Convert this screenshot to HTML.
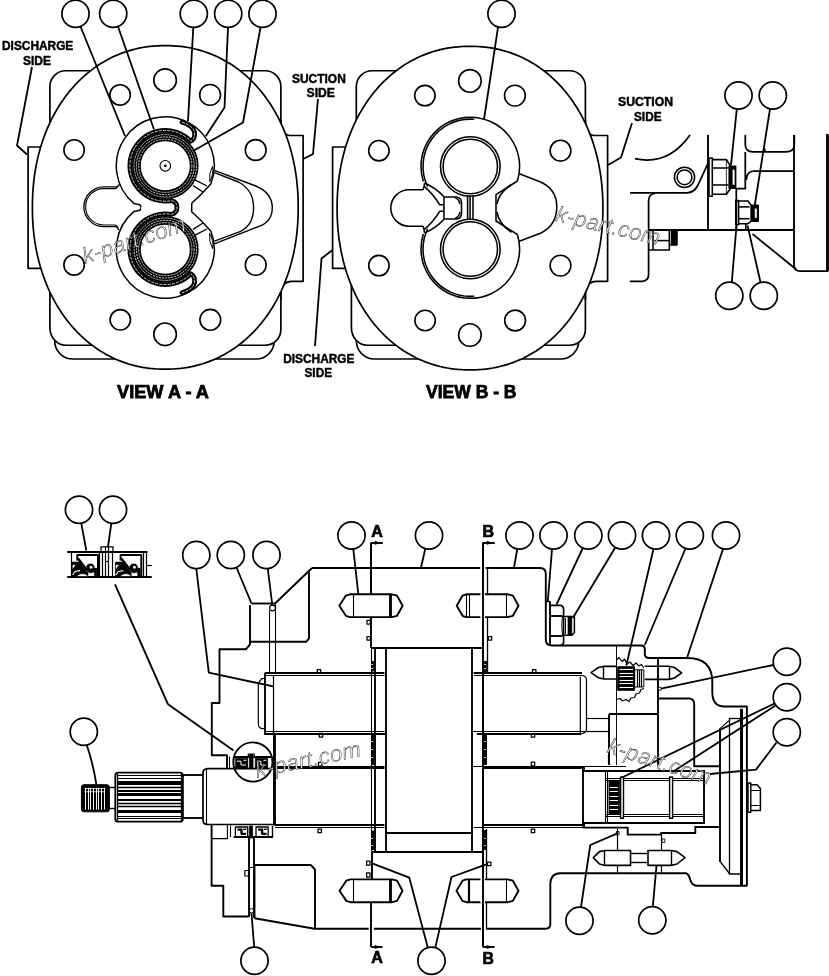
<!DOCTYPE html>
<html><head><meta charset="utf-8"><title>Gear pump</title>
<style>
html,body{margin:0;padding:0;background:#fff;}
svg{display:block;font-family:"Liberation Sans",sans-serif;}
</style></head><body>
<svg width="829" height="976" viewBox="0 0 829 976">
<defs><filter id="nf" x="-10%" y="-10%" width="120%" height="120%"><feOffset dx="0" dy="0"/></filter></defs>
<rect x="0" y="0" width="829" height="976" fill="#fff"/>
<g fill="none" stroke="#000" stroke-width="1.55" stroke-linecap="butt" stroke-linejoin="round">
<path d="M54.7 300 L54.7 341 A18 18 0 0 0 72.7 359 L256.2 359 A18 18 0 0 0 274.2 341 L274.2 300" stroke-width="1.7" fill="#fff"/>
<path d="M65.7 70.75 L265.1 70.75 A15.8 15.8 0 0 1 280.9 86.55 L280.9 329.45 A15.8 15.8 0 0 1 265.1 345.25 L65.7 345.25 A15.8 17.8 0 0 1 49.9 327.45 L49.9 208 L49.9 208 L49.9 86.55 A15.8 15.8 0 0 1 65.7 70.75 Z" stroke-width="1.7" fill="#fff"/>
<path d="M280.9 120 L280.9 126.5 A9 9 0 0 0 289.9 135.5 L303.1 135.5 L303.1 281.3 L291.4 281.3 A10.5 10.5 0 0 0 280.9 291.8 L280.9 300" stroke-width="1.7" fill="#fff"/>
<path d="M61.9 147 L28.1 147 L28.1 268.3 L61.9 268.3" stroke-width="1.7" fill="#fff"/>
<path d="M298.2 207.4 L298.16 212.44 L298.03 217.15 L297.81 221.73 L297.51 226.23 L297.12 230.67 L296.64 235.05 L296.08 239.38 L295.43 243.65 L294.7 247.88 L293.88 252.06 L292.98 256.19 L292 260.27 L290.93 264.31 L289.78 268.29 L288.55 272.22 L287.23 276.09 L285.84 279.91 L284.37 283.67 L282.82 287.37 L281.19 291.01 L279.48 294.59 L277.7 298.11 L275.84 301.56 L273.91 304.94 L271.91 308.25 L269.83 311.49 L267.68 314.66 L265.47 317.76 L263.19 320.77 L260.84 323.71 L258.42 326.57 L255.95 329.35 L253.4 332.05 L250.8 334.66 L248.14 337.19 L245.42 339.63 L242.64 341.98 L239.81 344.24 L236.92 346.41 L233.98 348.49 L230.99 350.47 L227.95 352.36 L224.86 354.15 L221.72 355.85 L218.54 357.45 L215.31 358.95 L212.04 360.35 L208.73 361.65 L205.38 362.85 L201.98 363.95 L198.55 364.94 L195.08 365.83 L191.56 366.62 L188.01 367.3 L184.41 367.88 L180.77 368.36 L177.07 368.72 L173.3 368.99 L169.44 369.15 L165.3 369.2 L161.16 369.15 L157.3 368.99 L153.53 368.72 L149.83 368.36 L146.19 367.88 L142.59 367.3 L139.04 366.62 L135.52 365.83 L132.05 364.94 L128.62 363.95 L125.22 362.85 L121.87 361.65 L118.56 360.35 L115.29 358.95 L112.06 357.45 L108.88 355.85 L105.74 354.15 L102.65 352.36 L99.61 350.47 L96.62 348.49 L93.68 346.41 L90.79 344.24 L87.96 341.98 L85.18 339.63 L82.46 337.19 L79.8 334.66 L77.2 332.05 L74.65 329.35 L72.18 326.57 L69.76 323.71 L67.41 320.77 L65.13 317.76 L62.92 314.66 L60.77 311.49 L58.69 308.25 L56.69 304.94 L54.76 301.56 L52.9 298.11 L51.12 294.59 L49.41 291.01 L47.78 287.37 L46.23 283.67 L44.76 279.91 L43.37 276.09 L42.05 272.22 L40.82 268.29 L39.67 264.31 L38.6 260.27 L37.62 256.19 L36.72 252.06 L35.9 247.88 L35.17 243.65 L34.52 239.38 L33.96 235.05 L33.48 230.67 L33.09 226.23 L32.79 221.73 L32.57 217.15 L32.44 212.44 L32.4 207.4 L32.44 202.36 L32.57 197.65 L32.79 193.07 L33.09 188.57 L33.48 184.13 L33.96 179.75 L34.52 175.42 L35.17 171.15 L35.9 166.92 L36.72 162.74 L37.62 158.61 L38.6 154.53 L39.67 150.49 L40.82 146.51 L42.05 142.58 L43.37 138.71 L44.76 134.89 L46.23 131.13 L47.78 127.43 L49.41 123.79 L51.12 120.21 L52.9 116.69 L54.76 113.24 L56.69 109.86 L58.69 106.55 L60.77 103.31 L62.92 100.14 L65.13 97.04 L67.41 94.03 L69.76 91.09 L72.18 88.23 L74.65 85.45 L77.2 82.75 L79.8 80.14 L82.46 77.61 L85.18 75.17 L87.96 72.82 L90.79 70.56 L93.68 68.39 L96.62 66.31 L99.61 64.33 L102.65 62.44 L105.74 60.65 L108.88 58.95 L112.06 57.35 L115.29 55.85 L118.56 54.45 L121.87 53.15 L125.22 51.95 L128.62 50.85 L132.05 49.86 L135.52 48.97 L139.04 48.18 L142.59 47.5 L146.19 46.92 L149.83 46.44 L153.53 46.08 L157.3 45.81 L161.16 45.65 L165.3 45.6 L169.44 45.65 L173.3 45.81 L177.07 46.08 L180.77 46.44 L184.41 46.92 L188.01 47.5 L191.56 48.18 L195.08 48.97 L198.55 49.86 L201.98 50.85 L205.38 51.95 L208.73 53.15 L212.04 54.45 L215.31 55.85 L218.54 57.35 L221.72 58.95 L224.86 60.65 L227.95 62.44 L230.99 64.33 L233.98 66.31 L236.92 68.39 L239.81 70.56 L242.64 72.82 L245.42 75.17 L248.14 77.61 L250.8 80.14 L253.4 82.75 L255.95 85.45 L258.42 88.23 L260.84 91.09 L263.19 94.03 L265.47 97.04 L267.68 100.14 L269.83 103.31 L271.91 106.55 L273.91 109.86 L275.84 113.24 L277.7 116.69 L279.48 120.21 L281.19 123.79 L282.82 127.43 L284.37 131.13 L285.84 134.89 L287.23 138.71 L288.55 142.58 L289.78 146.51 L290.93 150.49 L292 154.53 L292.98 158.61 L293.88 162.74 L294.7 166.92 L295.43 171.15 L296.08 175.42 L296.64 179.75 L297.12 184.13 L297.51 188.57 L297.81 193.07 L298.03 197.65 L298.16 202.36 Z" stroke-width="1.7" fill="#fff"/>
<circle cx="120.1" cy="94.9" r="10.2" stroke-width="1.6"/>
<circle cx="165.1" cy="80.2" r="11.3" stroke-width="1.6"/>
<circle cx="210.1" cy="94.9" r="10.4" stroke-width="1.6"/>
<circle cx="74.1" cy="150" r="10.2" stroke-width="1.6"/>
<circle cx="255.7" cy="150" r="10.4" stroke-width="1.6"/>
<circle cx="74.1" cy="264.9" r="10.2" stroke-width="1.6"/>
<circle cx="255.7" cy="264.9" r="10.4" stroke-width="1.6"/>
<circle cx="120.3" cy="319.8" r="10.2" stroke-width="1.6"/>
<circle cx="165.1" cy="334.3" r="11.3" stroke-width="1.6"/>
<circle cx="210.3" cy="319.8" r="10.4" stroke-width="1.6"/>
<path d="M134.12 203.6 A49 49 0 1 1 210.79 184 Q201.5 194.5 191.7 203.2 L191.7 211.8 Q201.5 220.5 210.79 231 A49 49 0 1 1 134.12 211.4 L137.5 210.8 Q141 210.6 141 207.5 Q141 204.4 137.5 204.2 Z" stroke-width="1.5" fill="#fff"/>
<path d="M119.4 184.2 Q118.8 186.9 115.5 186.9 L103.8 186.9 A19.9 19.9 0 0 0 103.8 226.7 L115.4 226.7 Q118.2 227 118.6 230.2" stroke-width="1.3"/>
<path d="M117.8 186.3 Q117 188.6 114.5 188.6 L103.8 188.6 A18.2 18.2 0 0 0 103.8 225 L114.5 225 Q117.4 225.2 118 228" stroke-width="1.1"/>
<path d="M214.3 170.3 L255.8 186 Q272.3 193 272.3 207.6 Q272.3 222 259 226.4 L214.3 243.8" stroke-width="1.4"/>
<path d="M214.5 172.6 L238.4 182 Q253.6 190 253.6 207.6 Q253.6 225 240.6 231.3 L214.5 241.2" stroke-width="1.4"/>
<path d="M212.6 166.3 Q213.8 175 209.6 181.6 Q208.8 173 212.6 166.3 Z" stroke-width="1"/>
<path d="M212.6 248.7 Q213.8 240 209.6 233.4 Q208.8 242 212.6 248.7 Z" stroke-width="1"/>
<line x1="195" y1="179.8" x2="207" y2="186" stroke-width="1.3"/>
<line x1="193" y1="185.6" x2="203" y2="192" stroke-width="1.3"/>
<line x1="195" y1="235.2" x2="207" y2="229" stroke-width="1.3"/>
<line x1="193" y1="229.4" x2="203" y2="223" stroke-width="1.3"/>
<circle cx="165.3" cy="165.8" r="28.9" stroke-width="8.8"/>
<circle cx="165.3" cy="165.8" r="26.6" stroke-width="0.8" stroke="#fff" stroke-dasharray="2.2 0.9"/>
<circle cx="165.3" cy="165.8" r="28.9" stroke-width="0.8" stroke="#fff" stroke-dasharray="2.2 0.9"/>
<circle cx="165.3" cy="165.8" r="31.2" stroke-width="0.8" stroke="#fff" stroke-dasharray="2.2 0.9"/>
<circle cx="165.3" cy="249.2" r="28.9" stroke-width="8.8"/>
<circle cx="165.3" cy="249.2" r="26.6" stroke-width="0.8" stroke="#fff" stroke-dasharray="2.2 0.9"/>
<circle cx="165.3" cy="249.2" r="28.9" stroke-width="0.8" stroke="#fff" stroke-dasharray="2.2 0.9"/>
<circle cx="165.3" cy="249.2" r="31.2" stroke-width="0.8" stroke="#fff" stroke-dasharray="2.2 0.9"/>
<path d="M182 122.3 C188 124 193.5 127 194.6 132.5 C195 136.5 193.5 139.8 190.76 141.21 A35.4 35.4 0 1 0 171.45 200.66 Q177 202 177 207.5 Q177 213 171.45 214.34 A35.4 35.4 0 1 0 190.76 273.79 C193.5 275.2 195 278.5 194.6 282.5 C193.5 288 188 291 182 292.7" stroke-width="4.8" stroke-linecap="round"/>
<path d="M182 122.3 C188 124 193.5 127 194.6 132.5 C195 136.5 193.5 139.8 190.76 141.21 A35.4 35.4 0 1 0 171.45 200.66 Q177 202 177 207.5 Q177 213 171.45 214.34 A35.4 35.4 0 1 0 190.76 273.79 C193.5 275.2 195 278.5 194.6 282.5 C193.5 288 188 291 182 292.7" stroke-width="0.8" stroke="#fff" stroke-dasharray="3 1.2"/>
<line x1="141" y1="208" x2="170" y2="208" stroke-width="1.9" stroke="#fff"/>
<circle cx="167" cy="206.3" r="0.9" stroke-width="0.6" fill="#fff" stroke="#fff"/>
<circle cx="165.3" cy="165.8" r="5.3" stroke-width="1.1" fill="#fff"/>
<circle cx="165.3" cy="165.8" r="0.6" fill="#000"/>
<path d="M356.4 300 L356.4 341 A18 18 0 0 0 374.4 359 L560.7 359 A18 18 0 0 0 578.7 341 L578.7 300" stroke-width="1.7" fill="#fff"/>
<path d="M372.1 70.75 L569.6 70.75 A15.8 15.8 0 0 1 585.4 86.55 L585.4 329.45 A15.8 15.8 0 0 1 569.6 345.25 L367.2 345.25 A15.8 17.8 0 0 1 351.4 327.45 L351.4 208 L356.3 208 L356.3 86.55 A15.8 15.8 0 0 1 372.1 70.75 Z" stroke-width="1.7" fill="#fff"/>
<path d="M585.4 120 L585.4 126.5 A9 9 0 0 0 594.4 135.5 L607.6 135.5 L607.6 281.3 L595.9 281.3 A10.5 10.5 0 0 0 585.4 291.8 L585.4 300" stroke-width="1.7" fill="#fff"/>
<path d="M366.4 147 L332.6 147 L332.6 268.3 L366.4 268.3" stroke-width="1.7" fill="#fff"/>
<path d="M602.9 208.1 L602.86 213.14 L602.73 217.85 L602.51 222.43 L602.21 226.93 L601.82 231.37 L601.34 235.75 L600.78 240.08 L600.13 244.35 L599.4 248.58 L598.58 252.76 L597.68 256.89 L596.7 260.97 L595.63 265.01 L594.48 268.99 L593.25 272.92 L591.93 276.79 L590.54 280.61 L589.07 284.37 L587.52 288.07 L585.89 291.71 L584.18 295.29 L582.4 298.81 L580.54 302.26 L578.61 305.64 L576.61 308.95 L574.53 312.19 L572.38 315.36 L570.17 318.46 L567.89 321.47 L565.54 324.41 L563.12 327.27 L560.65 330.05 L558.1 332.75 L555.5 335.36 L552.84 337.89 L550.12 340.33 L547.34 342.68 L544.51 344.94 L541.62 347.11 L538.68 349.19 L535.69 351.17 L532.65 353.06 L529.56 354.85 L526.42 356.55 L523.24 358.15 L520.01 359.65 L516.74 361.05 L513.43 362.35 L510.08 363.55 L506.68 364.65 L503.25 365.64 L499.78 366.53 L496.26 367.32 L492.71 368 L489.11 368.58 L485.47 369.06 L481.77 369.42 L478 369.69 L474.14 369.85 L470 369.9 L465.86 369.85 L462 369.69 L458.23 369.42 L454.53 369.06 L450.89 368.58 L447.29 368 L443.74 367.32 L440.22 366.53 L436.75 365.64 L433.32 364.65 L429.92 363.55 L426.57 362.35 L423.26 361.05 L419.99 359.65 L416.76 358.15 L413.58 356.55 L410.44 354.85 L407.35 353.06 L404.31 351.17 L401.32 349.19 L398.38 347.11 L395.49 344.94 L392.66 342.68 L389.88 340.33 L387.16 337.89 L384.5 335.36 L381.9 332.75 L379.35 330.05 L376.88 327.27 L374.46 324.41 L372.11 321.47 L369.83 318.46 L367.62 315.36 L365.47 312.19 L363.39 308.95 L361.39 305.64 L359.46 302.26 L357.6 298.81 L355.82 295.29 L354.11 291.71 L352.48 288.07 L350.93 284.37 L349.46 280.61 L348.07 276.79 L346.75 272.92 L345.52 268.99 L344.37 265.01 L343.3 260.97 L342.32 256.89 L341.42 252.76 L340.6 248.58 L339.87 244.35 L339.22 240.08 L338.66 235.75 L338.18 231.37 L337.79 226.93 L337.49 222.43 L337.27 217.85 L337.14 213.14 L337.1 208.1 L337.14 203.06 L337.27 198.35 L337.49 193.77 L337.79 189.27 L338.18 184.83 L338.66 180.45 L339.22 176.12 L339.87 171.85 L340.6 167.62 L341.42 163.44 L342.32 159.31 L343.3 155.23 L344.37 151.19 L345.52 147.21 L346.75 143.28 L348.07 139.41 L349.46 135.59 L350.93 131.83 L352.48 128.13 L354.11 124.49 L355.82 120.91 L357.6 117.39 L359.46 113.94 L361.39 110.56 L363.39 107.25 L365.47 104.01 L367.62 100.84 L369.83 97.74 L372.11 94.73 L374.46 91.79 L376.88 88.93 L379.35 86.15 L381.9 83.45 L384.5 80.84 L387.16 78.31 L389.88 75.87 L392.66 73.52 L395.49 71.26 L398.38 69.09 L401.32 67.01 L404.31 65.03 L407.35 63.14 L410.44 61.35 L413.58 59.65 L416.76 58.05 L419.99 56.55 L423.26 55.15 L426.57 53.85 L429.92 52.65 L433.32 51.55 L436.75 50.56 L440.22 49.67 L443.74 48.88 L447.29 48.2 L450.89 47.62 L454.53 47.14 L458.23 46.78 L462 46.51 L465.86 46.35 L470 46.3 L474.14 46.35 L478 46.51 L481.77 46.78 L485.47 47.14 L489.11 47.62 L492.71 48.2 L496.26 48.88 L499.78 49.67 L503.25 50.56 L506.68 51.55 L510.08 52.65 L513.43 53.85 L516.74 55.15 L520.01 56.55 L523.24 58.05 L526.42 59.65 L529.56 61.35 L532.65 63.14 L535.69 65.03 L538.68 67.01 L541.62 69.09 L544.51 71.26 L547.34 73.52 L550.12 75.87 L552.84 78.31 L555.5 80.84 L558.1 83.45 L560.65 86.15 L563.12 88.93 L565.54 91.79 L567.89 94.73 L570.17 97.74 L572.38 100.84 L574.53 104.01 L576.61 107.25 L578.61 110.56 L580.54 113.94 L582.4 117.39 L584.18 120.91 L585.89 124.49 L587.52 128.13 L589.07 131.83 L590.54 135.59 L591.93 139.41 L593.25 143.28 L594.48 147.21 L595.63 151.19 L596.7 155.23 L597.68 159.31 L598.58 163.44 L599.4 167.62 L600.13 171.85 L600.78 176.12 L601.34 180.45 L601.82 184.83 L602.21 189.27 L602.51 193.77 L602.73 198.35 L602.86 203.06 Z" stroke-width="1.7" fill="#fff"/>
<circle cx="424.9" cy="95.6" r="10.2" stroke-width="1.6"/>
<circle cx="469.9" cy="80.9" r="11.3" stroke-width="1.6"/>
<circle cx="514.9" cy="95.6" r="10.4" stroke-width="1.6"/>
<circle cx="378.9" cy="150.7" r="10.2" stroke-width="1.6"/>
<circle cx="560.5" cy="150.7" r="10.4" stroke-width="1.6"/>
<circle cx="378.9" cy="265.6" r="10.2" stroke-width="1.6"/>
<circle cx="560.5" cy="265.6" r="10.4" stroke-width="1.6"/>
<circle cx="425.1" cy="320.5" r="10.2" stroke-width="1.6"/>
<circle cx="469.9" cy="335" r="11.3" stroke-width="1.6"/>
<circle cx="515.1" cy="320.5" r="10.4" stroke-width="1.6"/>
<path d="M423.34 181.5 A49.3 49.3 0 1 1 517.42 181"/>
<path d="M423.34 234 A49.3 49.3 0 1 0 517.42 234.5"/>
<path d="M427.64 186.7 A47.2 47.2 0 0 1 474.3 119.3"/>
<path d="M427.64 228.8 A47.2 47.2 0 0 0 474.3 296.2"/>
<circle cx="470.3" cy="166.5" r="29.8"/>
<circle cx="470.3" cy="166.5" r="27.2"/>
<circle cx="470.3" cy="249" r="29.8"/>
<circle cx="470.3" cy="249" r="27.2"/>
<path d="M423 189.8 L409 189.8 A18.2 18.2 0 0 0 409 226.2 L423 226.2"/>
<path d="M423 189.8 Q424.3 187 424.5 183"/>
<path d="M423 226.2 Q424.3 229 424.5 233"/>
<path d="M424.5 183 Q436 188 444 196.8"/>
<path d="M424.5 186.7 Q433 194 439.7 204.8 L444 204.8"/>
<path d="M424.5 233 Q436 228 444 219.2"/>
<path d="M424.5 229.3 Q433 222 439.7 211.3 L444 211.3"/>
<path d="M444 197 L456.5 197 Q461.5 197.5 461.5 203 L461.5 213 Q461.5 218.5 456.5 219 L444 219 Z"/>
<path d="M455 197.5 Q459.5 199.5 459.8 204"/>
<path d="M455 218.5 Q459.5 216.5 459.8 212"/>
<line x1="467.6" y1="195.6" x2="467.6" y2="220"/>
<line x1="470.1" y1="195.6" x2="470.1" y2="220"/>
<line x1="473" y1="195.6" x2="473" y2="220"/>
<path d="M517.4 181 L496 194.7 L496 221 L517.4 234.5"/>
<path d="M496.9 204 Q499 193 511.5 184.5"/>
<path d="M496.9 212 Q499 224 511.5 232.3"/>
<path d="M519.3 173.8 L540 181.7 Q556.8 189 556.8 206.5 Q556.8 225 541 233 L519.3 241.2"/>
<circle cx="75.5" cy="13.8" r="13.6" stroke-width="1.7" fill="#fff"/>
<circle cx="113.2" cy="13.8" r="13.6" stroke-width="1.7" fill="#fff"/>
<circle cx="193.8" cy="13.8" r="13.6" stroke-width="1.7" fill="#fff"/>
<circle cx="228.2" cy="13.8" r="13.6" stroke-width="1.7" fill="#fff"/>
<circle cx="262.5" cy="13.8" r="13.6" stroke-width="1.7" fill="#fff"/>
<circle cx="501.5" cy="13.8" r="13.6" stroke-width="1.7" fill="#fff"/>
<circle cx="738.5" cy="95.5" r="13.6" stroke-width="1.7" fill="#fff"/>
<circle cx="772.8" cy="95.5" r="13.6" stroke-width="1.7" fill="#fff"/>
<circle cx="729.3" cy="295.8" r="13.6" stroke-width="1.7" fill="#fff"/>
<circle cx="763.8" cy="295.8" r="13.6" stroke-width="1.7" fill="#fff"/>
<path d="M80.5 26.5 L125 136" stroke-width="1.8"/>
<path d="M118 26.5 L154 129.5" stroke-width="1.8"/>
<path d="M193.3 27.5 L188 121" stroke-width="1.8"/>
<path d="M228 27.5 L224.5 107.5 L205.7 136.3" stroke-width="1.8"/>
<path d="M260.5 27.5 L243 122.5 L193 151" stroke-width="1.8"/>
<path d="M498 27.3 L484 119.5" stroke-width="1.8"/>
<path d="M736.8 109 L731 165" stroke-width="1.8"/>
<path d="M770 109 L754.8 205" stroke-width="1.8"/>
<path d="M731.8 282.2 L736.5 226" stroke-width="1.8"/>
<path d="M760.5 282.2 L747.5 225.4" stroke-width="1.8"/>
<g filter="url(#nf)"><text x="2" y="50" font-size="12.6" font-weight="bold" textLength="71.3" lengthAdjust="spacingAndGlyphs" text-anchor="start" stroke="#000" stroke-width="0.45" stroke-linejoin="miter" fill="#000">DISCHARGE</text></g>
<g filter="url(#nf)"><text x="23" y="64.5" font-size="12.6" font-weight="bold" textLength="28" lengthAdjust="spacingAndGlyphs" text-anchor="start" stroke="#000" stroke-width="0.45" stroke-linejoin="miter" fill="#000">SIDE</text></g>
<path d="M32 67 L17 145.5 L27 154.5" stroke-width="1.8"/>
<g filter="url(#nf)"><text x="292" y="82.5" font-size="12.6" font-weight="bold" textLength="53.8" lengthAdjust="spacingAndGlyphs" text-anchor="start" stroke="#000" stroke-width="0.45" stroke-linejoin="miter" fill="#000">SUCTION</text></g>
<g filter="url(#nf)"><text x="306.5" y="96.8" font-size="12.6" font-weight="bold" textLength="28.5" lengthAdjust="spacingAndGlyphs" text-anchor="start" stroke="#000" stroke-width="0.45" stroke-linejoin="miter" fill="#000">SIDE</text></g>
<path d="M318 99 L313 154 L303.3 159" stroke-width="1.8"/>
<g filter="url(#nf)"><text x="283.2" y="362.8" font-size="12.6" font-weight="bold" textLength="71.3" lengthAdjust="spacingAndGlyphs" text-anchor="start" stroke="#000" stroke-width="0.45" stroke-linejoin="miter" fill="#000">DISCHARGE</text></g>
<g filter="url(#nf)"><text x="304.5" y="377" font-size="12.6" font-weight="bold" textLength="27.5" lengthAdjust="spacingAndGlyphs" text-anchor="start" stroke="#000" stroke-width="0.45" stroke-linejoin="miter" fill="#000">SIDE</text></g>
<path d="M315 346 L321.5 258.5 L332.5 250" stroke-width="1.8"/>
<g filter="url(#nf)"><text x="618" y="106" font-size="12.6" font-weight="bold" textLength="55" lengthAdjust="spacingAndGlyphs" text-anchor="start" stroke="#000" stroke-width="0.45" stroke-linejoin="miter" fill="#000">SUCTION</text></g>
<g filter="url(#nf)"><text x="634" y="120.8" font-size="12.6" font-weight="bold" textLength="27.5" lengthAdjust="spacingAndGlyphs" text-anchor="start" stroke="#000" stroke-width="0.45" stroke-linejoin="miter" fill="#000">SIDE</text></g>
<path d="M632 123 L621 157.5 L608 165" stroke-width="1.8"/>
<g filter="url(#nf)"><text x="117" y="397.6" font-size="17.6" font-weight="bold" textLength="92" lengthAdjust="spacingAndGlyphs" text-anchor="start" stroke="#000" stroke-width="0.75" stroke-linejoin="miter" fill="#000">VIEW A - A</text></g>
<g filter="url(#nf)"><text x="426" y="398.3" font-size="17.6" font-weight="bold" textLength="90.5" lengthAdjust="spacingAndGlyphs" text-anchor="start" stroke="#000" stroke-width="0.75" stroke-linejoin="miter" fill="#000">VIEW B - B</text></g>
<path d="M635 158.7 Q668 166 690 135" stroke-width="1.75"/>
<line x1="708" y1="135" x2="708" y2="230.5" stroke-width="1.9"/>
<circle cx="684.5" cy="177.3" r="10.1"/>
<circle cx="684.5" cy="177.3" r="7.4"/>
<path d="M630 192.8 L687 192.8 Q694 192.5 697.5 186 L707.8 163.8" stroke-width="1.75"/>
<path d="M629.8 281.3 L642 281.3 Q648.6 281 648.6 274.5 L648.6 200.5 Q648.8 194 655 193.5" stroke-width="1.75"/>
<line x1="648.6" y1="230" x2="794.3" y2="230" stroke-width="1.9"/>
<path d="M648.6 250 L669.3 250 L669.3 231"/>
<line x1="654.5" y1="240.6" x2="669.3" y2="240.6"/>
<line x1="653" y1="231" x2="653" y2="250"/>
<rect x="671.5" y="231" width="5.5" height="13.8" fill="#000"/>
<line x1="669.3" y1="244.8" x2="677" y2="244.8"/>
<rect x="709" y="157.9" width="3.3" height="38.3"/>
<path d="M712.3 159.6 L726.4 159.6 L730.6 166.3 L730.6 188.3 L726.4 194.2 L712.3 194.2"/>
<line x1="712.3" y1="168" x2="728.5" y2="168"/>
<line x1="712.3" y1="185" x2="728.5" y2="185"/>
<line x1="726.4" y1="159.6" x2="726.4" y2="194.2" stroke-width="0.8"/>
<rect x="729.2" y="166.3" width="6.4" height="22" fill="#000"/>
<rect x="732.3" y="169.5" width="2.6" height="15.5" stroke-width="0.5" fill="#fff"/>
<path d="M745.3 135 L745.3 145 Q745.6 151.8 753 151.8 L786 151.8 Q794 151.8 794.3 145 L794.3 135" stroke-width="1.75"/>
<line x1="764.8" y1="148.5" x2="764.8" y2="151.8"/>
<path d="M745.3 152 L745.3 188.5 L736.3 188.5 L736.3 230.5" stroke-width="1.75"/>
<path d="M746.3 180 Q746.3 171.5 754 171 L794.3 171" stroke-width="1.75"/>
<line x1="794" y1="135" x2="794" y2="267" stroke-width="1.9"/>
<path d="M794.3 266 Q794.5 271 800 271 L828 271" stroke-width="1.75"/>
<line x1="827.5" y1="134" x2="827.5" y2="271.5" stroke-width="2.85"/>
<line x1="752.5" y1="233.9" x2="796" y2="269.3" stroke-width="1.75"/>
<rect x="735.8" y="200.6" width="2.8" height="24"/>
<path d="M738.6 201 L748 201 L751.2 205.2 L751.2 221.2 L748 223.7 L738.6 223.7"/>
<line x1="738.6" y1="206.9" x2="749.5" y2="206.9"/>
<line x1="738.6" y1="218.7" x2="749.5" y2="218.7"/>
<rect x="751.6" y="205.2" width="6.6" height="16" fill="#000"/>
<rect x="754.6" y="208.3" width="2.5" height="9.8" stroke-width="0.5" fill="#fff"/>
<line x1="745.8" y1="224" x2="745.8" y2="230.5"/>
<clipPath id="wmc1"><text x="85" y="264" transform="rotate(-18 85 264)" font-size="22.8" font-style="italic">k-part.com</text></clipPath>
<g filter="url(#nf)"><g clip-path="url(#wmc1)"><text x="85" y="264" transform="rotate(-18 85 264)" font-size="22.8" font-style="italic" fill="#fff" stroke="#4a4a4a" stroke-width="1.15">k-part.com</text></g></g>
<clipPath id="wmc2"><text x="554.5" y="221" transform="rotate(13.2 554.5 221)" font-size="22.6" font-style="italic">k-part.com</text></clipPath>
<g filter="url(#nf)"><g clip-path="url(#wmc2)"><text x="554.5" y="221" transform="rotate(13.2 554.5 221)" font-size="22.6" font-style="italic" fill="#fff" stroke="#4a4a4a" stroke-width="1.15">k-part.com</text></g></g>
<line x1="67.2" y1="552" x2="147.5" y2="552" stroke-width="2"/>
<line x1="67.2" y1="577" x2="151.7" y2="577" stroke-width="2"/>
<line x1="71.5" y1="552" x2="71.5" y2="577" stroke-width="1.2"/>
<line x1="99.5" y1="553" x2="99.5" y2="577" stroke-width="1.2"/>
<line x1="102.5" y1="553" x2="102.5" y2="577" stroke-width="1.2"/>
<path d="M101 552 L101 546.8 L113 546.8 L113 552" stroke-width="1.3"/>
<line x1="105.5" y1="546.8" x2="105.5" y2="577" stroke-width="1.2"/>
<line x1="108.5" y1="546.8" x2="108.5" y2="577" stroke-width="1.2"/>
<line x1="112.5" y1="552" x2="112.5" y2="577" stroke-width="1.2"/>
<line x1="105.8" y1="561.5" x2="108.9" y2="561.5" stroke-width="1.2"/>
<line x1="143.5" y1="552" x2="143.5" y2="577" stroke-width="1.2"/>
<line x1="146.5" y1="552" x2="146.5" y2="577" stroke-width="1.2"/>
<line x1="147" y1="565.5" x2="152" y2="565.5" stroke-width="1.2"/>
<path d="M77.3 560.5 L77.3 555 L98 555 L98 576" stroke-width="2"/>
<path d="M78 558.5 L86.8 570" stroke-width="2.4"/>
<path d="M72 562 L79.5 562 L84.5 569 L88 572.5 L88 576 L72 576 Z" stroke-width="0.5" fill="#000"/>
<path d="M72.8 565 L75.3 565 L72.8 568.4 Z" stroke-width="0.3" fill="#fff" stroke="#fff"/>
<path d="M72.6 575 L75 571.5 L80 570.6" stroke-width="1.1" stroke="#fff"/>
<path d="M86.5 566 L88.5 564 L92.5 564 L94.2 566.5 L94.2 572 L90 573 L87 571 Z" stroke-width="0.5" fill="#000"/>
<circle cx="91.1" cy="567.3" r="1.3" stroke-width="0.3" fill="#fff" stroke="#fff"/>
<rect x="94.2" y="568" width="2.7" height="8.3" stroke-width="0.3" fill="#000"/>
<path d="M77.5 576 Q82.5 571.8 87.5 576 Z" stroke-width="0.3" fill="#fff" stroke="#fff"/>
<path d="M120.6 560.5 L120.6 555 L141.3 555 L141.3 576" stroke-width="2"/>
<path d="M121.3 558.5 L130.1 570" stroke-width="2.4"/>
<path d="M115.3 562 L122.8 562 L127.8 569 L131.3 572.5 L131.3 576 L115.3 576 Z" stroke-width="0.5" fill="#000"/>
<path d="M116.1 565 L118.6 565 L116.1 568.4 Z" stroke-width="0.3" fill="#fff" stroke="#fff"/>
<path d="M115.9 575 L118.3 571.5 L123.3 570.6" stroke-width="1.1" stroke="#fff"/>
<path d="M129.8 566 L131.8 564 L135.8 564 L137.5 566.5 L137.5 572 L133.3 573 L130.3 571 Z" stroke-width="0.5" fill="#000"/>
<circle cx="134.4" cy="567.3" r="1.3" stroke-width="0.3" fill="#fff" stroke="#fff"/>
<rect x="137.5" y="568" width="2.7" height="8.3" stroke-width="0.3" fill="#000"/>
<path d="M120.8 576 Q125.8 571.8 130.8 576 Z" stroke-width="0.3" fill="#fff" stroke="#fff"/>
<line x1="115" y1="584.3" x2="168" y2="704.3" stroke-width="1.9"/>
<line x1="168" y1="704.3" x2="233.5" y2="750.5" stroke-width="1.9"/>
<path d="M312 568 L480.2 568 M485.6 568 L540 568 Q545.8 568 545.8 574 L545.8 639.5 Q545.8 645.5 552 645.5 L641 645.5 Q644.8 645.5 644.8 649 L644.8 654 Q644.8 658 649.5 658 L687.3 658 Q712.3 658 712.3 682 L712.3 692 Q712.3 706.5 724.5 706.5 L746.9 706.5 L746.9 885.8" stroke-width="1.9"/>
<line x1="312" y1="568" x2="275" y2="603.5" stroke-width="1.9"/>
<path d="M251.5 603.5 L275 603.5" stroke-width="1.9"/>
<path d="M250 605 L250 644.3 L245.8 649.3 L219.5 649.3 L219.5 703 L211.8 703 L211.8 755.3 L227 755.3 L227 768.6" stroke-width="1.9"/>
<path d="M309 570 L309 638.5 L306 641.8 L250 641.8" stroke-width="1.9"/>
<line x1="269.5" y1="610.5" x2="269.5" y2="673" stroke-width="1.1"/>
<line x1="275.5" y1="603.5" x2="275.5" y2="673" stroke-width="1.1"/>
<circle cx="272.5" cy="608" r="2.9" stroke-width="1.1" fill="#fff"/>
<rect x="81.4" y="784.7" width="28" height="27.1" rx="2.6" stroke-width="1" fill="#000"/>
<line x1="85.5" y1="787.8" x2="85.5" y2="809.6" stroke-width="0.95" stroke="#fff"/>
<line x1="88.5" y1="787.8" x2="88.5" y2="809.6" stroke-width="0.95" stroke="#fff"/>
<line x1="90.5" y1="787.8" x2="90.5" y2="809.6" stroke-width="0.95" stroke="#fff"/>
<line x1="93.5" y1="787.8" x2="93.5" y2="809.6" stroke-width="0.95" stroke="#fff"/>
<line x1="96.5" y1="787.8" x2="96.5" y2="809.6" stroke-width="0.95" stroke="#fff"/>
<line x1="98.5" y1="787.8" x2="98.5" y2="809.6" stroke-width="0.95" stroke="#fff"/>
<line x1="101.5" y1="787.8" x2="101.5" y2="809.6" stroke-width="0.95" stroke="#fff"/>
<line x1="104.5" y1="787.8" x2="104.5" y2="809.6" stroke-width="0.95" stroke="#fff"/>
<line x1="84.6" y1="788.6" x2="105" y2="788.6" stroke-width="0.8" stroke="#fff"/>
<line x1="84.6" y1="791.8" x2="105" y2="791.8" stroke-width="0.8" stroke="#fff"/>
<line x1="109.4" y1="787.5" x2="115.3" y2="787.5" stroke-width="1.4"/>
<line x1="109.4" y1="808.5" x2="115.3" y2="808.5" stroke-width="1.4"/>
<rect x="115.3" y="772.7" width="67.6" height="49" rx="3" stroke-width="1.8"/>
<line x1="117.2" y1="775.5" x2="181.9" y2="775.5" stroke-width="1"/>
<line x1="117.2" y1="778.5" x2="181.9" y2="778.5" stroke-width="1.1"/>
<line x1="117.2" y1="783" x2="181.9" y2="783" stroke-width="4"/>
<line x1="117.2" y1="787.5" x2="181.9" y2="787.5" stroke-width="1.4"/>
<line x1="117.2" y1="791" x2="181.9" y2="791" stroke-width="1.9"/>
<line x1="117.2" y1="794.5" x2="181.9" y2="794.5" stroke-width="2.85"/>
<line x1="117.2" y1="800" x2="181.9" y2="800" stroke-width="1.9"/>
<line x1="117.2" y1="803.5" x2="181.9" y2="803.5" stroke-width="1.3"/>
<line x1="117.2" y1="806.5" x2="181.9" y2="806.5" stroke-width="1.4"/>
<line x1="117.2" y1="811.5" x2="181.9" y2="811.5" stroke-width="3.2"/>
<line x1="117.2" y1="816.5" x2="181.9" y2="816.5" stroke-width="1"/>
<line x1="117.2" y1="818.5" x2="181.9" y2="818.5" stroke-width="1.1"/>
<line x1="117.5" y1="774" x2="117.5" y2="820.5" stroke-width="1.3"/>
<line x1="181.5" y1="774" x2="181.5" y2="820.5" stroke-width="1.3"/>
<line x1="182.9" y1="775" x2="203" y2="775" stroke-width="1.9"/>
<line x1="182.9" y1="818" x2="203" y2="818" stroke-width="1.9"/>
<path d="M274.9 768.6 L207.5 768.6 Q203 768.8 203 773 L203 820 Q203 824.3 207.5 824.5 L274.9 824.5" stroke-width="1.7"/>
<line x1="206.5" y1="769" x2="206.5" y2="824" stroke-width="1.1"/>
<circle cx="252.9" cy="762" r="19.6" stroke-width="1.9"/>
<line x1="233.6" y1="757" x2="272.2" y2="757" stroke-width="2"/>
<line x1="229.5" y1="756.6" x2="229.5" y2="768.6" stroke-width="1.1"/>
<path d="M248.3 756.6 L248.3 754 L254.3 754 L254.3 756.6" stroke-width="1.2"/>
<rect x="249.6" y="754.5" width="3.4" height="14" stroke-width="0.8" fill="#000"/>
<rect x="235.3" y="758.2" width="12.6" height="10.4" stroke-width="0.4" fill="#000"/>
<path d="M236.8 761.2 L241 761.2 L241 765 L246 765" stroke-width="1" stroke="#fff"/>
<path d="M243.5 760.3 L246.5 760.3" stroke-width="1" stroke="#fff"/>
<rect x="255.2" y="758.2" width="12.6" height="10.4" stroke-width="0.4" fill="#000"/>
<path d="M256.7 761.2 L260.9 761.2 L260.9 765 L265.9 765" stroke-width="1" stroke="#fff"/>
<path d="M263.4 760.3 L266.4 760.3" stroke-width="1" stroke="#fff"/>
<line x1="233.6" y1="837" x2="272.9" y2="837" stroke-width="1.9"/>
<rect x="235.4" y="827" width="12.2" height="9.6" stroke-width="1.3" fill="#fff"/>
<path d="M237.5 829.6 L241.5 829.6 L241.5 833.8 L246 833.8" stroke-width="2.3"/>
<path d="M243.2 829.3 L246.2 829.3" stroke-width="1.4"/>
<rect x="256" y="827" width="12.2" height="9.6" stroke-width="1.3" fill="#fff"/>
<path d="M258.1 829.6 L262.1 829.6 L262.1 833.8 L266.6 833.8" stroke-width="2.3"/>
<path d="M263.8 829.3 L266.8 829.3" stroke-width="1.4"/>
<line x1="230.5" y1="825.7" x2="230.5" y2="837" stroke-width="1.1"/>
<rect x="249.3" y="826" width="3.2" height="12" stroke-width="0.8" fill="#000"/>
<line x1="272.5" y1="826" x2="272.5" y2="837.2" stroke-width="1.4"/>
<path d="M211.6 825 L211.6 885.8 L223.3 885.8 L223.3 916.5 L248.5 916.5" stroke-width="1.9"/>
<path d="M227.4 825 L227.4 838.6 L211.6 838.6" stroke-width="1.1"/>
<line x1="249" y1="837" x2="249" y2="917" stroke-width="1.9"/>
<line x1="254" y1="837" x2="254" y2="917.7" stroke-width="1.9"/>
<line x1="249" y1="867.5" x2="254" y2="867.5" stroke-width="1"/>
<rect x="244.9" y="870.5" width="3.6" height="5.5" stroke-width="1.2"/>
<circle cx="251.5" cy="910.8" r="2.2" stroke-width="1" fill="#fff"/>
<path d="M254.5 918.3 L254.5 865 L310.8 865 L315 869.5 L315 928.5" stroke-width="1.9"/>
<path d="M254.5 918.3 L314.5 928.8 L546 928.8 Q550.3 928.6 550.3 924 L550.3 884 Q550.8 873.5 560 873.3 L686.5 873.3 Q689 874.5 690 879 Q691.5 885.6 697 885.8 L747.3 885.8" stroke-width="1.9"/>
<line x1="368.7" y1="928.5" x2="373.9" y2="928.5" stroke-width="3.4" stroke="#fff"/>
<line x1="481" y1="928.5" x2="486.2" y2="928.5" stroke-width="3.4" stroke="#fff"/>
<line x1="265" y1="673" x2="384.5" y2="673" stroke-width="1.9"/>
<line x1="265" y1="675.5" x2="384.5" y2="675.5" stroke-width="1"/>
<line x1="265" y1="672.8" x2="265" y2="733.3" stroke-width="1.9"/>
<line x1="273.5" y1="675" x2="273.5" y2="733.6" stroke-width="1.2"/>
<line x1="274.5" y1="733.6" x2="274.5" y2="825.5" stroke-width="2.85"/>
<path d="M265 678.5 L262 678.5 L258.3 683 L258.3 723.5 Q258.3 728.6 263 728.7 L265 728.7" stroke-width="1.2"/>
<line x1="264.2" y1="734" x2="385.8" y2="734" stroke-width="1.9"/>
<line x1="265.6" y1="731.5" x2="384.5" y2="731.5" stroke-width="1"/>
<rect x="317.3" y="669.6" width="3.4" height="3.6" stroke-width="1.25"/>
<rect x="319.3" y="733.4" width="3.4" height="3.6" stroke-width="1.25"/>
<line x1="275" y1="766.5" x2="384.5" y2="766.5" stroke-width="1"/>
<line x1="275" y1="768" x2="384.5" y2="768" stroke-width="1.9"/>
<line x1="275" y1="825" x2="384.5" y2="825" stroke-width="1.9"/>
<line x1="275" y1="827.5" x2="384.5" y2="827.5" stroke-width="1"/>
<rect x="318" y="829" width="3.4" height="3.6" stroke-width="1.25"/>
<rect x="318.5" y="762.4" width="3.4" height="3.6" stroke-width="1.25"/>
<line x1="371" y1="542.8" x2="371" y2="594" stroke-width="2"/>
<line x1="370.9" y1="543" x2="382.9" y2="543" stroke-width="1.9"/>
<path d="M375 541.2 L379.5 542.8 L375 544.4 Z" stroke-width="0.6" fill="#000"/>
<g filter="url(#nf)"><text x="371.3" y="537.3" font-size="17" font-weight="bold" textLength="11.6" lengthAdjust="spacingAndGlyphs" text-anchor="start" stroke="#000" stroke-width="0.7" stroke-linejoin="miter" fill="#000">A</text></g>
<line x1="371" y1="617.5" x2="371" y2="648" stroke-width="1.9"/>
<rect x="367" y="620.4" width="3.4" height="3.6" stroke-width="1.25"/>
<rect x="367" y="636.5" width="3.4" height="3.6" stroke-width="1.25"/>
<line x1="370.9" y1="648" x2="482.6" y2="648" stroke-width="1.9"/>
<line x1="371.5" y1="648" x2="371.5" y2="851" stroke-width="1.1"/>
<line x1="372.5" y1="661" x2="372.5" y2="671.5" stroke-width="2.85"/>
<line x1="375" y1="648" x2="375" y2="851" stroke-width="1.9"/>
<line x1="386" y1="648" x2="386" y2="851" stroke-width="1.9"/>
<line x1="372.5" y1="734.5" x2="372.5" y2="765" stroke-width="2.85"/>
<line x1="372.5" y1="830.5" x2="372.5" y2="850" stroke-width="2.85"/>
<line x1="371.4" y1="664.5" x2="373" y2="664.5" stroke-width="0.95" stroke="#fff"/>
<line x1="371.4" y1="668.5" x2="373" y2="668.5" stroke-width="0.95" stroke="#fff"/>
<line x1="371.4" y1="741.5" x2="373" y2="741.5" stroke-width="0.95" stroke="#fff"/>
<line x1="371.4" y1="749.5" x2="373" y2="749.5" stroke-width="0.95" stroke="#fff"/>
<line x1="371.4" y1="757.5" x2="373" y2="757.5" stroke-width="0.95" stroke="#fff"/>
<line x1="371.4" y1="838.5" x2="373" y2="838.5" stroke-width="0.95" stroke="#fff"/>
<line x1="371.4" y1="845.5" x2="373" y2="845.5" stroke-width="0.95" stroke="#fff"/>
<line x1="386" y1="833" x2="472" y2="833" stroke-width="1.9"/>
<line x1="372" y1="852" x2="482.7" y2="852" stroke-width="1.9"/>
<line x1="372" y1="851.5" x2="372" y2="879.5" stroke-width="1.9"/>
<rect x="366.6" y="861" width="3.4" height="4.2" stroke-width="1.25"/>
<rect x="366.6" y="872.8" width="3.4" height="4.4" stroke-width="1.25"/>
<line x1="371" y1="902" x2="371" y2="947" stroke-width="1.9"/>
<line x1="370.9" y1="947" x2="382.5" y2="947" stroke-width="1.9"/>
<path d="M375 945.4 L379.5 947 L375 948.6 Z" stroke-width="0.6" fill="#000"/>
<g filter="url(#nf)"><text x="371.3" y="963.3" font-size="17" font-weight="bold" textLength="11.6" lengthAdjust="spacingAndGlyphs" text-anchor="start" stroke="#000" stroke-width="0.7" stroke-linejoin="miter" fill="#000">A</text></g>
<path d="M350 594.3 L391.9 594.3 L397.04 595.6 L402.6 605.7 L397.04 615.8 L391.9 617.1 L350 617.1 L345.93 615.8 L339.3 605.7 L345.93 595.6 Z" stroke-width="1.9" fill="#fff"/>
<line x1="353.5" y1="594.3" x2="353.5" y2="617.1" stroke-width="1.1"/>
<line x1="390.5" y1="594.3" x2="390.5" y2="617.1" stroke-width="2.85"/>
<path d="M350.5 879.4 L392 879.4 L397.04 880.7 L402.5 890.8 L397.04 900.9 L392 902.2 L350.5 902.2 L346.32 900.9 L339.5 890.8 L346.32 880.7 Z" stroke-width="1.9" fill="#fff"/>
<line x1="353.5" y1="879.4" x2="353.5" y2="902.2" stroke-width="1.1"/>
<line x1="390.5" y1="879.4" x2="390.5" y2="902.2" stroke-width="2.85"/>
<line x1="472" y1="648" x2="472" y2="851.5" stroke-width="1.9"/>
<line x1="473.7" y1="673" x2="582" y2="673" stroke-width="1.9"/>
<line x1="473.7" y1="675.5" x2="582" y2="675.5" stroke-width="1"/>
<line x1="483" y1="542.8" x2="483" y2="947" stroke-width="2"/>
<line x1="482.6" y1="543" x2="494.8" y2="543" stroke-width="1.9"/>
<path d="M487 541.2 L491.5 542.8 L487 544.4 Z" stroke-width="0.6" fill="#000"/>
<g filter="url(#nf)"><text x="482.6" y="537.3" font-size="17" font-weight="bold" textLength="11.6" lengthAdjust="spacingAndGlyphs" text-anchor="start" stroke="#000" stroke-width="0.7" stroke-linejoin="miter" fill="#000">B</text></g>
<line x1="482.6" y1="947" x2="494.6" y2="947" stroke-width="1.9"/>
<path d="M487 945.4 L491.5 947 L487 948.6 Z" stroke-width="0.6" fill="#000"/>
<g filter="url(#nf)"><text x="482.6" y="964" font-size="17" font-weight="bold" textLength="11.4" lengthAdjust="spacingAndGlyphs" text-anchor="start" stroke="#000" stroke-width="0.7" stroke-linejoin="miter" fill="#000">B</text></g>
<line x1="487.5" y1="568" x2="487.5" y2="594" stroke-width="1.3"/>
<line x1="487.5" y1="617.5" x2="487.5" y2="672" stroke-width="1.3"/>
<line x1="485.5" y1="661" x2="485.5" y2="672" stroke-width="2.85"/>
<rect x="488.3" y="636.5" width="3.4" height="3.6" stroke-width="1.25"/>
<line x1="485.5" y1="735" x2="485.5" y2="765" stroke-width="2.85"/>
<line x1="485.5" y1="830" x2="485.5" y2="850" stroke-width="2.85"/>
<line x1="484.4" y1="664.5" x2="486" y2="664.5" stroke-width="0.95" stroke="#fff"/>
<line x1="484.4" y1="668.5" x2="486" y2="668.5" stroke-width="0.95" stroke="#fff"/>
<line x1="484.4" y1="741.5" x2="486" y2="741.5" stroke-width="0.95" stroke="#fff"/>
<line x1="484.4" y1="749.5" x2="486" y2="749.5" stroke-width="0.95" stroke="#fff"/>
<line x1="484.4" y1="757.5" x2="486" y2="757.5" stroke-width="0.95" stroke="#fff"/>
<line x1="484.4" y1="838.5" x2="486" y2="838.5" stroke-width="0.95" stroke="#fff"/>
<line x1="484.4" y1="845.5" x2="486" y2="845.5" stroke-width="0.95" stroke="#fff"/>
<line x1="486.5" y1="829" x2="486.5" y2="878.5" stroke-width="1.3"/>
<line x1="486.5" y1="902" x2="486.5" y2="928.5" stroke-width="1.3"/>
<rect x="487.5" y="862" width="3.4" height="3.6" stroke-width="1.25"/>
<line x1="414" y1="833" x2="472" y2="833" stroke-width="1.9"/>
<path d="M466.2 594.3 L507.7 594.3 L512.88 595.6 L518.5 605.7 L512.88 615.8 L507.7 617.1 L466.2 617.1 L462.59 615.8 L456.7 605.7 L462.59 595.6 Z" stroke-width="1.9" fill="#fff"/>
<line x1="469.5" y1="594.3" x2="469.5" y2="617.1" stroke-width="1.1"/>
<line x1="466.5" y1="594.3" x2="466.5" y2="617.1" stroke-width="1.1"/>
<line x1="506.5" y1="594.3" x2="506.5" y2="617.1" stroke-width="1.1"/>
<path d="M466.2 879.4 L507.7 879.4 L512.88 880.7 L518.5 890.8 L512.88 900.9 L507.7 902.2 L466.2 902.2 L462.51 900.9 L456.5 890.8 L462.51 880.7 Z" stroke-width="1.9" fill="#fff"/>
<line x1="469" y1="879.4" x2="469" y2="902.2" stroke-width="2.2"/>
<line x1="506.5" y1="879.4" x2="506.5" y2="902.2" stroke-width="1.1"/>
<rect x="480.4" y="593.2" width="4.6" height="25" fill="#fff" stroke="none"/>
<line x1="483" y1="593.1" x2="483" y2="618.3" stroke-width="1.9"/>
<line x1="487.1" y1="594.3" x2="487.1" y2="617.1" stroke-width="0"/>
<rect x="480.4" y="878.3" width="4.6" height="25" fill="#fff" stroke="none"/>
<line x1="483" y1="878.2" x2="483" y2="903.4" stroke-width="1.9"/>
<line x1="487.1" y1="879.4" x2="487.1" y2="902.2" stroke-width="0"/>
<line x1="472" y1="731.5" x2="585" y2="731.5" stroke-width="1"/>
<line x1="476.9" y1="734" x2="581.6" y2="734" stroke-width="1.9"/>
<path d="M580.3 676.5 L580.3 733" stroke-width="1.2"/>
<path d="M582 675.5 Q586.5 676 586.5 680 L586.5 729 Q586.5 733 582 733.3" stroke-width="1.2"/>
<rect x="532.5" y="669.6" width="3.4" height="3.6" stroke-width="1.25"/>
<rect x="531.3" y="733.6" width="3.4" height="3.6" stroke-width="1.25"/>
<line x1="472.2" y1="766.5" x2="626" y2="766.5" stroke-width="1"/>
<line x1="482.8" y1="768" x2="582.4" y2="768" stroke-width="1.9"/>
<line x1="482.8" y1="825" x2="582.4" y2="825" stroke-width="1.9"/>
<line x1="473.5" y1="827.5" x2="626.5" y2="827.5" stroke-width="1.2"/>
<rect x="531.3" y="762.2" width="3.4" height="3.6" stroke-width="1.25"/>
<rect x="531.3" y="829" width="3.4" height="3.6" stroke-width="1.25"/>
<line x1="550" y1="601.6" x2="550" y2="645.5" stroke-width="1.9"/>
<line x1="545.8" y1="601.5" x2="550.2" y2="601.5" stroke-width="1.4"/>
<path d="M550.2 605.3 L560.3 605.3 Q563.6 605.8 563.6 609.5 L563.6 641.5 Q563.6 645 560.3 645.5" stroke-width="1.7"/>
<line x1="550.2" y1="616" x2="562.5" y2="616" stroke-width="1.9"/>
<line x1="550.2" y1="636" x2="562.5" y2="636" stroke-width="1.9"/>
<path d="M562.5 615.7 Q561 625.5 562.5 635.6" stroke-width="1"/>
<path d="M563.6 616.4 L574.4 616.4 L574.4 632.5 L571.8 635.2 L563.6 635.2" stroke-width="1.5"/>
<rect x="567.9" y="616.4" width="4" height="18.8" stroke-width="0.4" fill="#000"/>
<line x1="565.5" y1="618" x2="565.5" y2="634" stroke-width="0.95"/>
<line x1="616.5" y1="645.7" x2="616.5" y2="765" stroke-width="0.95"/>
<line x1="658" y1="658" x2="658" y2="765.6" stroke-width="1.9"/>
<path d="M616.3 666.4 L603.7 666.4 L598.5 667.5 L591 672.6 L598.5 677.8 L603.7 679 L616.3 679" stroke-width="1.6"/>
<line x1="603.5" y1="666.4" x2="603.5" y2="679" stroke-width="1.4"/>
<path d="M644.8 666.2 L669 666.2 L674.5 667.5 L681.6 672.8 L674.5 678 L669 679.4 L644.8 679.4" stroke-width="1.6"/>
<line x1="669.5" y1="666.2" x2="669.5" y2="679.4" stroke-width="1.4"/>
<rect x="617.6" y="666.6" width="17" height="23.8" stroke-width="0.8" fill="#000"/>
<line x1="619.5" y1="669.5" x2="633" y2="669.5" stroke-width="1.1" stroke="#fff"/>
<line x1="619.5" y1="673.5" x2="633" y2="673.5" stroke-width="1.1" stroke="#fff"/>
<line x1="619.5" y1="676.5" x2="633" y2="676.5" stroke-width="1.1" stroke="#fff"/>
<line x1="619.5" y1="680.5" x2="633" y2="680.5" stroke-width="1.1" stroke="#fff"/>
<line x1="619.5" y1="683.5" x2="633" y2="683.5" stroke-width="1.1" stroke="#fff"/>
<line x1="619.5" y1="687.5" x2="633" y2="687.5" stroke-width="1.1" stroke="#fff"/>
<rect x="634.6" y="669.8" width="9.2" height="17.2" stroke-width="1"/>
<line x1="637.5" y1="669.8" x2="637.5" y2="687" stroke-width="1.2"/>
<line x1="639.5" y1="669.8" x2="639.5" y2="687" stroke-width="1.2"/>
<line x1="641.5" y1="669.8" x2="641.5" y2="687" stroke-width="1.2"/>
<path d="M616.5 660 L619 657.5 L622 661.5 L624.5 659 L627 664 L630 662 L633 665.5 L636 663 L639 666 L641.5 664.5 L643.8 668" stroke-width="1.2"/>
<path d="M616.5 699.5 L620 698.5 L622.5 701 L626 699.5 L629 701.5 L631 698 L634.5 697.5 L636 694 L639.5 693 L641 689.5 L644 688.5" stroke-width="1.2"/>
<path d="M657.6 698.5 L689.6 698.5 Q694.2 699 694.2 704.2 L694.2 766.2 L720.5 766.2" stroke-width="1.9"/>
<line x1="608.9" y1="714" x2="657.6" y2="714" stroke-width="1.9"/>
<line x1="609" y1="714.5" x2="609" y2="765" stroke-width="1.9"/>
<line x1="586.5" y1="718.5" x2="608.9" y2="718.5" stroke-width="1.2"/>
<line x1="586.5" y1="731.5" x2="608.9" y2="731.5" stroke-width="1.2"/>
<circle cx="659.8" cy="688.8" r="1.6" stroke-width="0.9" fill="#fff"/>
<line x1="720" y1="728.2" x2="720" y2="862" stroke-width="1.9"/>
<path d="M720.5 728.2 L729 720.7" stroke-width="1.1"/>
<line x1="729.5" y1="718" x2="729.5" y2="873.5" stroke-width="1.3"/>
<line x1="729" y1="718.5" x2="741" y2="718.5" stroke-width="1.3"/>
<line x1="741.5" y1="708.8" x2="741.5" y2="885.5" stroke-width="3"/>
<path d="M720.5 862 L729.1 873 L729.1 874 L742 874" stroke-width="1.3"/>
<rect x="748" y="783" width="2.8" height="29.3" stroke-width="1.4"/>
<path d="M750.8 784.7 L757 784.7 L760.4 788.5 L760.4 810.6 L750.8 810.6" stroke-width="1.5"/>
<line x1="750.8" y1="790.5" x2="760.4" y2="790.5" stroke-width="1"/>
<line x1="750.8" y1="805.5" x2="760.4" y2="805.5" stroke-width="1"/>
<line x1="583" y1="766.8" x2="583" y2="826.8" stroke-width="1.9"/>
<line x1="584.5" y1="766" x2="584.5" y2="771" stroke-width="1"/>
<line x1="584.5" y1="822" x2="584.5" y2="827.5" stroke-width="1"/>
<line x1="582.6" y1="771" x2="705" y2="771" stroke-width="1.9"/>
<line x1="582.6" y1="823" x2="705" y2="823" stroke-width="1.9"/>
<line x1="704" y1="771" x2="704" y2="822.8" stroke-width="1.9"/>
<line x1="605.5" y1="771" x2="605.5" y2="822.6" stroke-width="1.1"/>
<line x1="607.5" y1="771" x2="607.5" y2="822.6" stroke-width="1.1"/>
<line x1="605.4" y1="778.5" x2="704" y2="778.5" stroke-width="1"/>
<line x1="605.4" y1="780.5" x2="704" y2="780.5" stroke-width="1"/>
<line x1="605.4" y1="814.5" x2="704" y2="814.5" stroke-width="1"/>
<line x1="605.4" y1="816.5" x2="704" y2="816.5" stroke-width="1"/>
<rect x="608.8" y="780.3" width="11" height="33.9" stroke-width="0.4" fill="#000"/>
<line x1="609.7" y1="787.5" x2="618" y2="787.5" stroke-width="1" stroke="#fff"/>
<line x1="609.7" y1="791.5" x2="618" y2="791.5" stroke-width="1" stroke="#fff"/>
<line x1="609.7" y1="796.5" x2="618" y2="796.5" stroke-width="1" stroke="#fff"/>
<line x1="609.7" y1="800.5" x2="618" y2="800.5" stroke-width="1" stroke="#fff"/>
<line x1="609.7" y1="805.5" x2="618" y2="805.5" stroke-width="1" stroke="#fff"/>
<line x1="609.7" y1="809.5" x2="618" y2="809.5" stroke-width="1" stroke="#fff"/>
<rect x="620.6" y="777" width="2.9" height="41.3" stroke-width="1.4" fill="#fff"/>
<rect x="669.6" y="777" width="3" height="41.3" stroke-width="1.4" fill="#fff"/>
<line x1="608.5" y1="755" x2="608.5" y2="764.4" stroke-width="1.2"/>
<path d="M583 827.6 L627.7 827.6 L627.7 834.6 L661 834.6 L661 833 L695.3 833 L695.3 827 L720.5 827" stroke-width="1.9"/>
<line x1="617.5" y1="828.8" x2="617.5" y2="850.5" stroke-width="1.2"/>
<line x1="617.5" y1="865.4" x2="617.5" y2="872.5" stroke-width="1.2"/>
<rect x="616.3" y="831.6" width="2.8" height="3.2" stroke-width="0.9"/>
<line x1="661.5" y1="833" x2="661.5" y2="850.5" stroke-width="1.2"/>
<line x1="661.5" y1="865.4" x2="661.5" y2="872.5" stroke-width="1.2"/>
<rect x="662" y="839" width="2.8" height="3.4" stroke-width="0.9"/>
<path d="M604.8 850.5 L630.5 850.5 L630.5 865.4 L604.8 865.4 L599.5 864 L593.3 857.6 L599.5 851.6 Z" stroke-width="1.6" fill="#fff"/>
<line x1="604.5" y1="850.5" x2="604.5" y2="865.4" stroke-width="1.4"/>
<line x1="630.5" y1="853.5" x2="648" y2="853.5" stroke-width="1.4"/>
<line x1="630.5" y1="862.5" x2="648" y2="862.5" stroke-width="1.4"/>
<path d="M648 850.5 L671.3 850.5 L677 851.6 L685 857.6 L677 864 L671.3 865.4 L648 865.4 Z" stroke-width="1.6" fill="#fff"/>
<line x1="671.5" y1="850.5" x2="671.5" y2="865.4" stroke-width="1.4"/>
<line x1="617.5" y1="833.3" x2="617.5" y2="873" stroke-width="0"/>
<path d="M617 833.3 L621 833.3" stroke-width="0"/>
<line x1="621" y1="833" x2="621" y2="873" stroke-width="0"/>
<path d="M81.3 523.3 L86.3 550.5" stroke-width="1.8"/>
<path d="M111.3 523.3 L108 546.8" stroke-width="1.8"/>
<path d="M196.3 568.8 L208.8 672.6 L273.2 686.4" stroke-width="1.8"/>
<path d="M236.5 567.5 L251.5 603.5" stroke-width="1.8"/>
<path d="M267.8 568.8 L272.3 605" stroke-width="1.8"/>
<path d="M353.3 549 L358.3 594" stroke-width="1.8"/>
<path d="M425.3 548.8 L421 567.5" stroke-width="1.8"/>
<path d="M517.3 549 L514 567.5" stroke-width="1.8"/>
<path d="M552 549.2 L547.8 601" stroke-width="1.8"/>
<path d="M582.8 548 L556.5 604.5" stroke-width="1.8"/>
<path d="M615.3 547.5 L572.8 618" stroke-width="1.8"/>
<path d="M653.5 549 L626.3 665.5" stroke-width="1.8"/>
<path d="M685.5 548.5 L644.8 645" stroke-width="1.8"/>
<path d="M723 549 L687.3 657" stroke-width="1.8"/>
<path d="M773.3 665 L661 688.6" stroke-width="1.8"/>
<path d="M774.5 703.5 L622 777.5" stroke-width="1.8"/>
<path d="M775.5 705.5 L672.5 772" stroke-width="1.8"/>
<path d="M776.5 742.5 L756 769.6 L710 774" stroke-width="1.8"/>
<path d="M86.8 745.3 Q93 763 96.3 784" stroke-width="1.8"/>
<path d="M251.5 913 L254.2 947.2" stroke-width="1.8"/>
<path d="M427.8 947.6 L409.3 877.7 L372.2 863.4" stroke-width="1.8"/>
<path d="M435.3 947.6 L451.5 877 L487.8 863.8" stroke-width="1.8"/>
<path d="M581 907 L590.3 845 L617.5 833.3" stroke-width="1.8"/>
<path d="M652.8 906.7 L656.5 865.6" stroke-width="1.8"/>
<circle cx="79" cy="509.8" r="13.6" stroke-width="1.7" fill="#fff"/>
<circle cx="113" cy="509.8" r="13.6" stroke-width="1.7" fill="#fff"/>
<circle cx="196.3" cy="555" r="13.6" stroke-width="1.7" fill="#fff"/>
<circle cx="230.8" cy="555" r="13.6" stroke-width="1.7" fill="#fff"/>
<circle cx="266.5" cy="555" r="13.6" stroke-width="1.7" fill="#fff"/>
<circle cx="351.5" cy="535.5" r="13.6" stroke-width="1.7" fill="#fff"/>
<circle cx="429" cy="535.5" r="13.6" stroke-width="1.7" fill="#fff"/>
<circle cx="519.5" cy="535.5" r="13.6" stroke-width="1.7" fill="#fff"/>
<circle cx="553.5" cy="535.5" r="13.6" stroke-width="1.7" fill="#fff"/>
<circle cx="588.3" cy="535.5" r="13.6" stroke-width="1.7" fill="#fff"/>
<circle cx="622" cy="535.5" r="13.6" stroke-width="1.7" fill="#fff"/>
<circle cx="656" cy="535.5" r="13.6" stroke-width="1.7" fill="#fff"/>
<circle cx="689.8" cy="535.5" r="13.6" stroke-width="1.7" fill="#fff"/>
<circle cx="726" cy="535.5" r="13.6" stroke-width="1.7" fill="#fff"/>
<circle cx="786.8" cy="661.8" r="13.6" stroke-width="1.7" fill="#fff"/>
<circle cx="786.8" cy="697.3" r="13.6" stroke-width="1.7" fill="#fff"/>
<circle cx="786.8" cy="732.3" r="13.6" stroke-width="1.7" fill="#fff"/>
<circle cx="83.8" cy="731.8" r="13.6" stroke-width="1.7" fill="#fff"/>
<circle cx="254.5" cy="960.8" r="13.6" stroke-width="1.7" fill="#fff"/>
<circle cx="431.5" cy="960.8" r="13.6" stroke-width="1.7" fill="#fff"/>
<circle cx="579.5" cy="920.8" r="13.6" stroke-width="1.7" fill="#fff"/>
<circle cx="652.3" cy="920.3" r="13.6" stroke-width="1.7" fill="#fff"/>
<clipPath id="wmc3"><text x="256.8" y="778.1" transform="rotate(-11.8 256.8 778.1)" font-size="22.8" font-style="italic">k-part.com</text></clipPath>
<g filter="url(#nf)"><g clip-path="url(#wmc3)"><text x="256.8" y="778.1" transform="rotate(-11.8 256.8 778.1)" font-size="22.8" font-style="italic" fill="#fff" stroke="#4a4a4a" stroke-width="1.15">k-part.com</text></g></g>
<clipPath id="wmc4"><text x="606" y="752.4" transform="rotate(17.8 606 752.4)" font-size="22.8" font-style="italic">k-part.com</text></clipPath>
<g filter="url(#nf)"><g clip-path="url(#wmc4)"><text x="606" y="752.4" transform="rotate(17.8 606 752.4)" font-size="22.8" font-style="italic" fill="#fff" stroke="#4a4a4a" stroke-width="1.15">k-part.com</text></g></g>
</g>
</svg>
</body></html>
